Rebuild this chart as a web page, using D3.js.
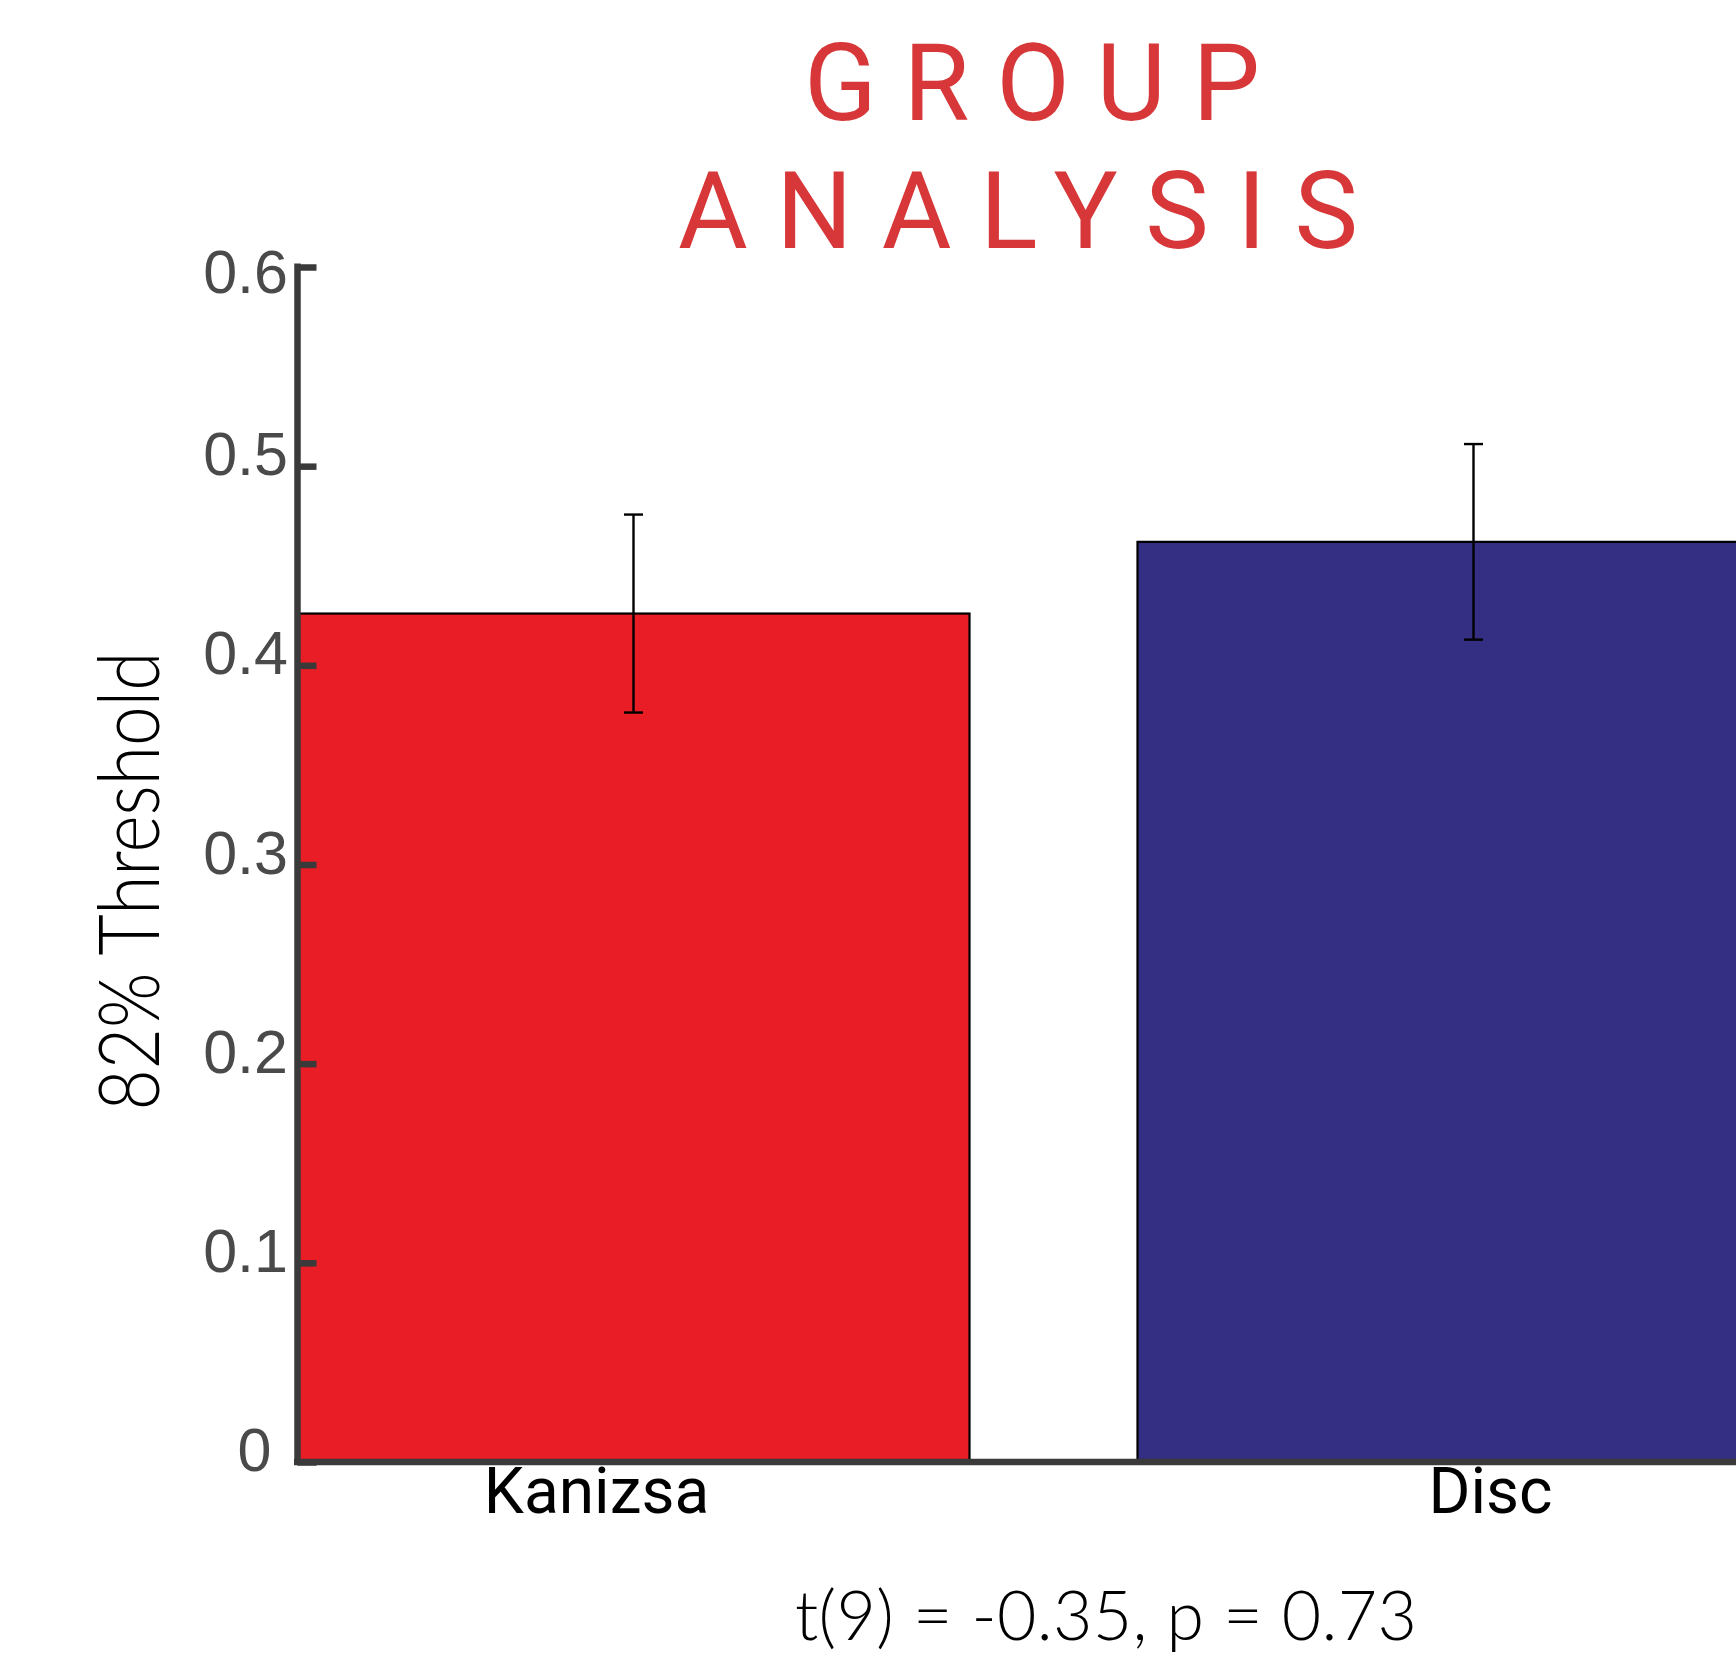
<!DOCTYPE html>
<html>
<head>
<meta charset="utf-8">
<script src="https://cdn.jsdelivr.net/npm/d3@7"></script>
<style>
  html, body { margin: 0; padding: 0; background: #ffffff; }
  svg { display: block; }
</style>
</head>
<body>
<svg id="chart" width="1736" height="1662"></svg>
<script>
// ---- data ----
const categories = ["Kanizsa", "Disc"];
const means = [0.426, 0.462];
const errors = [0.0497, 0.0491];
const yTicks = [0, 0.1, 0.2, 0.3, 0.4, 0.5, 0.6];
const titleLines = ["GROUP", "ANALYSIS"];
const yLabel = "82% Threshold";
const statsText = "t(9) = -0.35, p = 0.73";
const barColors = ["#e81d25", "#352f83"];

// ---- layout ----
const W = 1736, H = 1662;
const svg = d3.select("#chart");
svg.append("rect").attr("width", W).attr("height", H).attr("fill", "#fff");

const y = d3.scaleLinear().domain([0, 0.6]).range([1462, 267]);
const x = d3.scaleBand().domain(categories).range([297.5, 1809.5]).paddingInner(0.2).paddingOuter(0);

// bars
svg.append("g").selectAll("rect").data(categories).join("rect")
  .attr("x", d => x(d))
  .attr("y", (d, i) => y(means[i]))
  .attr("width", x.bandwidth())
  .attr("height", (d, i) => y(0) - y(means[i]))
  .attr("fill", (d, i) => barColors[i])
  .attr("stroke", "#000")
  .attr("stroke-width", 2.2);

// error bars
const eb = svg.append("g").attr("stroke", "#000").attr("stroke-width", 2.4);
categories.forEach((c, i) => {
  const cx = x(c) + x.bandwidth() / 2;
  const y1 = y(means[i] + errors[i]), y2 = y(means[i] - errors[i]);
  eb.append("line").attr("x1", cx).attr("x2", cx).attr("y1", y1).attr("y2", y2);
  eb.append("line").attr("x1", cx - 9.5).attr("x2", cx + 9.5).attr("y1", y1).attr("y2", y1);
  eb.append("line").attr("x1", cx - 9.5).attr("x2", cx + 9.5).attr("y1", y2).attr("y2", y2);
});

// x axis
const labelShift = { "Kanizsa": -37, "Disc": 17 };
const xAxis = svg.append("g").attr("transform", `translate(0,${y(0)})`)
  .call(d3.axisBottom(x).tickSize(0).tickSizeOuter(0));
xAxis.select(".domain").attr("stroke", "#3a3a3a").attr("stroke-width", 6.5)
  .attr("d", `M294,0H${W + 10}`);
xAxis.selectAll(".tick text")
  .attr("font-family", "Roboto, sans-serif")
  .attr("font-size", 64)
  .attr("fill", "#000")
  .attr("y", 51).attr("dy", 0)
  .attr("x", d => labelShift[d] || 0);

// y axis
const yAxis = svg.append("g").attr("transform", `translate(297.5,0)`)
  .call(d3.axisLeft(y).tickValues(yTicks).tickSize(-19).tickSizeOuter(0).tickPadding(9.5)
    .tickFormat(d => d === 0 ? "0" : d3.format(".1f")(d)));
yAxis.select(".domain").attr("stroke", "#3a3a3a").attr("stroke-width", 6.5)
  .attr("d", `M0,${y(0.6) - 3.5}V${y(0)}`);
yAxis.selectAll(".tick line").attr("stroke", "#3a3a3a").attr("stroke-width", 6.5);
yAxis.selectAll(".tick text")
  .attr("font-family", "'Liberation Sans', Arial, sans-serif")
  .attr("font-size", 61)
  .attr("fill", "#4a4a4a")
  .attr("dy", d => d === 0.6 ? "0.42em" : "0.14em")
  .attr("x", d => d === 0 ? -26 : -9.5);

// title
const titleSpec = [{ x0: 804, span: 456, base: 120 }, { x0: 678, span: 680, base: 248 }];
titleLines.forEach((t, i) => {
  svg.append("text")
    .attr("x", titleSpec[i].x0).attr("y", titleSpec[i].base)
    .attr("font-family", "Roboto, sans-serif")
    .attr("font-size", 107)
    .attr("fill", "#d73738")
    .attr("textLength", titleSpec[i].span)
    .attr("lengthAdjust", "spacing")
    .text(t);
});

// y label
svg.append("text")
  .attr("transform", "translate(159,881) rotate(-90)")
  .attr("text-anchor", "middle")
  .attr("font-family", "Lato, 'Open Sans', sans-serif")
  .attr("font-weight", 300)
  .attr("font-size", 85)
  .attr("fill", "#000")
  .attr("textLength", 459)
  .attr("lengthAdjust", "spacingAndGlyphs")
  .text(yLabel);

// stats text
svg.append("text")
  .attr("x", 795).attr("y", 1640)
  .attr("font-family", "Lato, 'Open Sans', sans-serif")
  .attr("font-weight", 300)
  .attr("font-size", 68)
  .attr("fill", "#000")
  .attr("textLength", 622)
  .attr("lengthAdjust", "spacing")
  .text(statsText);
</script>
</body>
</html>
